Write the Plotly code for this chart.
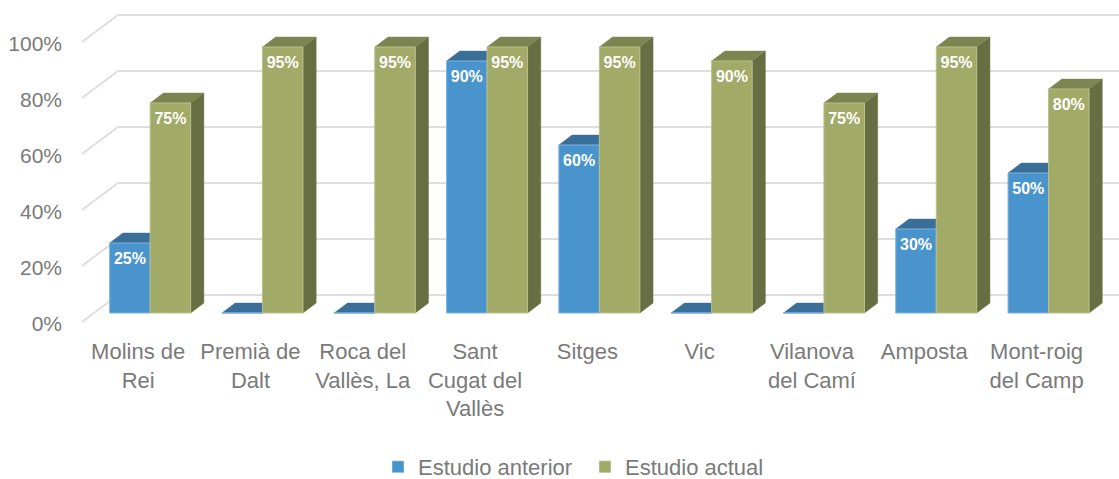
import plotly.graph_objects as go

# ---- data ----
categories = ["Molins de<br>Rei", "Premià de<br>Dalt", "Roca del<br>Vallès, La",
              "Sant<br>Cugat del<br>Vallès", "Sitges", "Vic", "Vilanova<br>del Camí",
              "Amposta", "Mont-roig<br>del Camp"]
estudio_anterior = [25, 0, 0, 90, 60, 0, 0, 30, 50]
estudio_actual = [75, 95, 95, 95, 95, 90, 75, 95, 80]
y_ticks = [0, 20, 40, 60, 80, 100]
y_ticklabels = ["0%", "20%", "40%", "60%", "80%", "100%"]

# ---- geometry ----
W, H = 1119, 479
L = 82                        # plot left edge px (front-left corner of the wall)
B_PX = 335                    # plot bottom px
SX, SY = 112.3, 2.8           # px per category, px per percent
PY0 = 322                     # px of y=0 at front plane
DX, DY = 36 / SX, 27 / SY     # full depth offset in axis units
BW = 40.5 / SX                # bar width
F_FRONT, F_BACK = 1 / 3, 0.70 # bar depth (fraction of full depth)
LABEL_SHIFT = 2 / SY          # y tick labels sit slightly lower

x_max = (W - L) / SX
y_top = PY0 / SY
y_bot = (PY0 - B_PX) / SY

def pt(x, y, d):
    return x + DX * d, y + DY * d

def poly(points):
    xs, ys = [], []
    for (x, y, d) in points:
        a, b = pt(x, y, d)
        xs.append(a); ys.append(b)
    xs.append(xs[0]); ys.append(ys[0])
    return xs, ys

def faces(values, offset):
    out = {"front": ([], []), "top": ([], []), "side": ([], [])}
    for i, v in enumerate(values):
        xl = i + 0.5 + offset
        xr = xl + BW
        f, b = F_FRONT, F_BACK
        shapes = {
            "front": [(xl, 0, f), (xr, 0, f), (xr, v, f), (xl, v, f)],
            "top": [(xl, v, f), (xr, v, f), (xr, v, b), (xl, v, b)],
            "side": [(xr, 0, f), (xr, 0, b), (xr, v, b), (xr, v, f)],
        }
        for k, p in shapes.items():
            xs, ys = poly(p)
            out[k][0].extend(xs + [None]); out[k][1].extend(ys + [None])
    return out

fig = go.Figure()

grid_color = "#dedede"
gx, gy = [], []
for v in y_ticks:
    a, b = pt(0, v, 1)
    gx += [a, x_max + 1, None]; gy += [b, b, None]
    a0, b0 = pt(0, v, 0)
    gx += [a0, a, None]; gy += [b0, b, None]
fig.add_trace(go.Scatter(x=gx, y=gy, mode="lines", line=dict(color=grid_color, width=2),
                         hoverinfo="skip", showlegend=False))

series = [
    ("Estudio anterior", estudio_anterior, -BW, "#4a94cd", "#3a6f99", "#2f5f85", "#7fb2dd"),
    ("Estudio actual", estudio_actual, 0.0, "#a1aa67", "#7c8450", "#676e42", "#b9c18a"),
]
for name, vals, off, c_front, c_top, c_side, c_edge in series:
    fc = faces(vals, off)
    for key, col in (("side", c_side), ("top", c_top)):
        fig.add_trace(go.Scatter(x=fc[key][0], y=fc[key][1], mode="lines", fill="toself",
                                 fillcolor=col, line=dict(color=col, width=0.5),
                                 hoverinfo="skip", showlegend=False))
    fig.add_trace(go.Scatter(x=fc["front"][0], y=fc["front"][1], mode="lines", fill="toself",
                             fillcolor=c_front, line=dict(color=c_edge, width=1),
                             hoverinfo="skip", showlegend=False))
    tx, ty, tt = [], [], []
    for i, v in enumerate(vals):
        if v > 0:
            a, b = pt(i + 0.5 + off + BW / 2, v, F_FRONT)
            tx.append(a); ty.append(b - 17 / SY); tt.append(f"{v}%")
    fig.add_trace(go.Scatter(x=tx, y=ty, text=tt, mode="text", cliponaxis=False,
                             textfont=dict(family="Liberation Sans", size=16, color="white",
                                           weight="bold"),
                             hoverinfo="skip", showlegend=False))
    fig.add_trace(go.Bar(x=[None], y=[None], name=name, marker_color=c_front))

text_color = "#7a7a7a"
fig.update_layout(
    width=W, height=H,
    margin=dict(l=L, r=0, t=0, b=H - B_PX, autoexpand=False),
    paper_bgcolor="white", plot_bgcolor="white",
    font=dict(family="Liberation Sans", size=22, color=text_color),
    showlegend=True,
    legend=dict(orientation="h", x=(378 - L) / (W - L), xanchor="left",
                y=(B_PX - 467) / B_PX, yanchor="middle", entrywidth=162,
                font=dict(size=22, color=text_color)),
    xaxis=dict(range=[0, x_max], tickvals=[i + 0.5 for i in range(len(categories))],
               ticktext=categories, showgrid=False, zeroline=False, showline=False,
               ticks="", ticklabelstandoff=1,
               tickfont=dict(size=22, color=text_color), fixedrange=True),
    yaxis=dict(range=[y_bot, y_top], tickvals=[v - LABEL_SHIFT for v in y_ticks],
               ticktext=y_ticklabels,
               showgrid=False, zeroline=False, showline=False, ticks="",
               ticklabelstandoff=19, tickfont=dict(size=21, color=text_color),
               fixedrange=True),
)

fig.write_html(
    "out.html",
    config={"displayModeBar": False},
    post_script="document.documentElement.style.margin='0';document.body.style.margin='0';"
                "document.body.style.overflow='hidden';",
)
